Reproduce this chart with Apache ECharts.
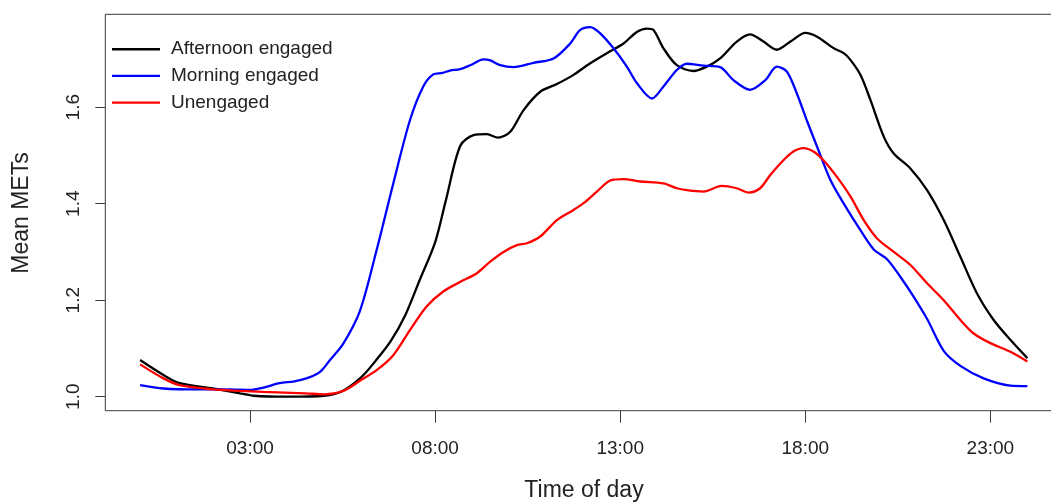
<!DOCTYPE html>
<html><head><meta charset="utf-8">
<script src="https://cdn.jsdelivr.net/npm/echarts@6/dist/echarts.min.js"></script>
<style>html,body{margin:0;padding:0;background:#fff}#c{width:1051px;height:504px}</style>
</head><body><div id="c"></div>
<script>
// ---- data (hours of day, mean METs) ----
const xTickHours = [3, 8, 13, 18, 23];
const yTickValues = [1.0, 1.2, 1.4, 1.6];
const seriesNames = ['Afternoon engaged', 'Morning engaged', 'Unengaged'];

const afternoonHours = [0.03, 0.66, 1.1, 2.0, 2.73, 3.1, 4.0, 5.0, 5.5, 6.0, 6.4, 6.8, 7.2, 7.6, 8.0, 8.3, 8.68, 9.04, 9.4, 9.7, 10.03, 10.39, 10.84, 11.29, 11.74, 12.19, 12.64, 13.09, 13.45, 13.72, 13.9, 14.17, 14.53, 14.98, 15.34, 15.7, 16.15, 16.51, 16.87, 17.23, 17.6, 18.0, 18.32, 18.77, 19.04, 19.22, 19.49, 19.76, 20.12, 20.39, 20.84, 21.29, 21.74, 22.19, 22.64, 23.09, 23.54, 24.0];
const afternoonMETs = [1.076, 1.045, 1.028, 1.017, 1.007, 1.002, 1.000, 1.002, 1.012, 1.04, 1.075, 1.115, 1.17, 1.245, 1.32, 1.41, 1.52, 1.542, 1.544, 1.537, 1.549, 1.594, 1.632, 1.648, 1.667, 1.691, 1.712, 1.732, 1.756, 1.763, 1.760, 1.722, 1.687, 1.675, 1.684, 1.701, 1.736, 1.751, 1.736, 1.719, 1.736, 1.754, 1.746, 1.722, 1.712, 1.698, 1.667, 1.615, 1.539, 1.504, 1.473, 1.428, 1.366, 1.290, 1.214, 1.159, 1.118, 1.080];

const morningHours = [0.03, 0.66, 1.56, 2.46, 3.0, 3.36, 3.8, 4.2, 4.6, 4.9, 5.16, 5.52, 5.97, 6.42, 6.87, 7.32, 7.68, 7.95, 8.2, 8.4, 8.68, 8.95, 9.31, 9.49, 9.76, 10.12, 10.66, 11.2, 11.65, 11.92, 12.19, 12.46, 12.82, 13.18, 13.45, 13.86, 14.17, 14.53, 14.8, 15.25, 15.7, 16.06, 16.51, 16.92, 17.23, 17.5, 17.77, 18.04, 18.32, 18.68, 19.04, 19.49, 19.85, 20.21, 20.6, 20.93, 21.3, 21.74, 22.19, 22.82, 23.54, 24.0];
const morningMETs = [1.024, 1.017, 1.015, 1.015, 1.014, 1.019, 1.028, 1.032, 1.04, 1.052, 1.076, 1.11, 1.178, 1.304, 1.442, 1.573, 1.643, 1.668, 1.671, 1.676, 1.679, 1.687, 1.699, 1.697, 1.687, 1.683, 1.692, 1.701, 1.732, 1.760, 1.766, 1.753, 1.722, 1.684, 1.650, 1.618, 1.643, 1.677, 1.690, 1.686, 1.683, 1.656, 1.636, 1.656, 1.684, 1.674, 1.629, 1.573, 1.518, 1.449, 1.40, 1.345, 1.305, 1.285, 1.245, 1.207, 1.16, 1.095, 1.064, 1.038, 1.023, 1.022];

const unengagedHours = [0.03, 0.66, 1.1, 2.0, 2.73, 3.35, 4.5, 5.0, 5.52, 5.97, 6.42, 6.87, 7.32, 7.77, 8.22, 8.68, 9.13, 9.49, 9.85, 10.21, 10.48, 10.84, 11.29, 11.74, 12.01, 12.37, 12.73, 13.09, 13.54, 14.17, 14.53, 14.8, 15.25, 15.74, 16.15, 16.47, 16.78, 17.05, 17.41, 17.68, 17.95, 18.22, 18.49, 18.85, 19.22, 19.58, 19.94, 20.39, 20.84, 21.29, 21.74, 22.19, 22.55, 23.0, 23.54, 24.0];
const unengagedMETs = [1.067, 1.038, 1.024, 1.015, 1.012, 1.010, 1.007, 1.005, 1.012, 1.033, 1.055, 1.086, 1.138, 1.187, 1.218, 1.238, 1.256, 1.28, 1.30, 1.314, 1.318, 1.332, 1.366, 1.387, 1.401, 1.425, 1.448, 1.451, 1.446, 1.442, 1.432, 1.428, 1.425, 1.437, 1.432, 1.423, 1.432, 1.459, 1.49, 1.508, 1.515, 1.508, 1.49, 1.456, 1.415, 1.366, 1.328, 1.30, 1.273, 1.235, 1.200, 1.159, 1.131, 1.111, 1.093, 1.073];

const seriesHours = [afternoonHours, morningHours, unengagedHours];
const seriesMETs = [afternoonMETs, morningMETs, unengagedMETs];
const seriesColors = ['#000000', '#0000ff', '#ff0000'];

// ---- chart ----
const FONT = "'Liberation Sans', Arial, Helvetica, sans-serif";
const chart = echarts.init(document.getElementById('c'), null, {renderer: 'canvas'});
const pad2 = n => (n < 10 ? '0' : '') + n;

const series = seriesNames.map((name, i) => ({
  name: name,
  type: 'line',
  data: seriesHours[i].map((h, j) => [h, seriesMETs[i][j]]),
  smooth: 0.3,
  symbol: 'none',
  showSymbol: false,
  clip: true,
  lineStyle: {color: seriesColors[i], width: 2.3},
  itemStyle: {color: seriesColors[i]},
  emphasis: {disabled: true},
  z: 3 + i
}));

chart.setOption({
  animation: false,
  backgroundColor: '#ffffff',
  textStyle: {fontFamily: FONT},
  grid: {
    left: 105.3, top: 14.3, width: 957.6, height: 396.4,
    show: true, borderColor: '#3a3a3a', borderWidth: 1, backgroundColor: 'transparent',
    containLabel: false, outerBoundsMode: 'none'
  },
  xAxis: {
    type: 'value', min: -0.91, max: 24.96,
    axisLine: {show: false, onZero: false},
    splitLine: {show: false},
    axisTick: {show: true, customValues: xTickHours, length: 12, inside: false,
      lineStyle: {color: '#3a3a3a', width: 1}},
    axisLabel: {show: true, customValues: xTickHours, margin: 29,
      formatter: v => pad2(Math.round(v)) + ':00',
      fontSize: 19, color: '#222', fontFamily: FONT}
  },
  yAxis: {
    type: 'value', min: 0.971, max: 1.7925,
    axisLine: {show: false, onZero: false},
    splitLine: {show: false},
    axisTick: {show: true, customValues: yTickValues, length: 10, inside: false,
      lineStyle: {color: '#3a3a3a', width: 1}},
    axisLabel: {show: true, customValues: yTickValues, margin: 22.5, rotate: 90,
      formatter: v => v.toFixed(1),
      fontSize: 19, color: '#222', fontFamily: FONT}
  },
  legend: {
    show: true, orient: 'vertical', left: 107, top: 34.7,
    icon: 'rect', itemWidth: 48, itemHeight: 2.4, itemGap: 7.7,
    data: seriesNames,
    textStyle: {fontSize: 19, color: '#222', fontFamily: FONT, padding: [0, 0, 0, 6]},
    selectedMode: false
  },
  graphic: [
    {type: 'text', x: 584, y: 491, style: {text: 'Time of day', font: '23px ' + FONT, fill: '#222', textAlign: 'center', textVerticalAlign: 'middle'}},
    {type: 'text', x: 22, y: 213, rotation: Math.PI / 2, style: {text: 'Mean METs', font: '23px ' + FONT, fill: '#222', textAlign: 'center', textVerticalAlign: 'middle'}}
  ],
  series: series
});
</script>
</body></html>
